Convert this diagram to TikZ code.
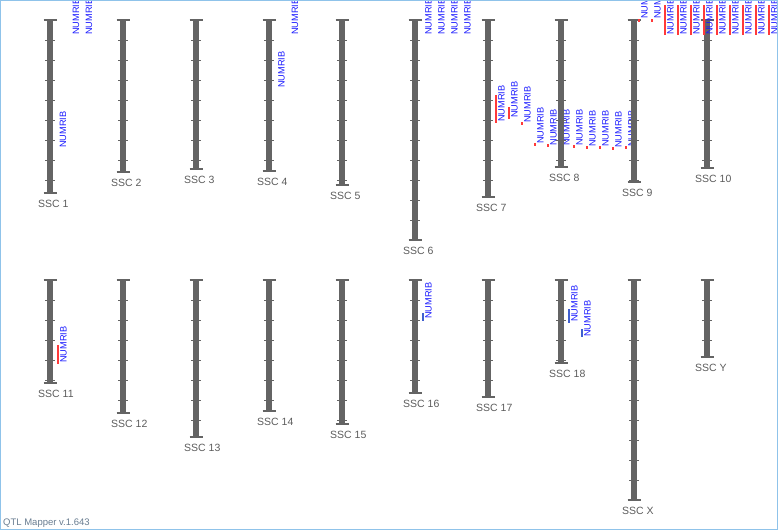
\documentclass[tikz,border=0pt]{standalone}
\usepackage{fontspec}
\setmainfont{Liberation Sans}
\definecolor{chromgray}{HTML}{646464}
\definecolor{labgray}{HTML}{5C5C5C}
\definecolor{qtltext}{HTML}{1A1AFF}
\definecolor{qtlred}{HTML}{FF3A3A}
\definecolor{qtlblue}{HTML}{3F5FD0}
\definecolor{framecol}{HTML}{8FC3EA}
\definecolor{footcol}{HTML}{687C90}
\tikzset{
  chrombar/.style={fill=chromgray},
  capline/.style={draw=chromgray, line width=1.4pt},
  tickline/.style={draw=chromgray, line width=0.9pt},
  chromlabel/.style={anchor=west, inner sep=0pt, text=labgray, font=\fontsize{10.5}{12}\selectfont},
  qtllabel/.style={anchor=west, rotate=90, inner sep=0pt, text=qtltext, font=\fontsize{9.2}{10}\selectfont},
  redbar/.style={draw=qtlred, line width=2pt},
  bluebar/.style={draw=qtlblue, line width=2pt},
  reddot/.style={fill=qtlred},
}
% #1 name, #2 x, #3 top, #4 bottom, #5 label
\newcommand\chromo[5]{%
  \fill[chrombar] ({#2-3},#3) rectangle ({#2+3},#4);
  \draw[capline] ({#2-6.5},#3) -- ({#2+6.5},#3);
  \draw[capline] ({#2-6.5},#4) -- ({#2+6.5},#4);
  \pgfmathtruncatemacro\ntick{(#4-#3-1)/20}%
  \foreach \k in {1,...,\ntick} \draw[tickline] ({#2-5},{#3+20*\k}) -- ({#2+5},{#3+20*\k});
  \node[chromlabel] (#1) at ({#2-12},{#4+10.5}) {#5};
}
% #1 name, #2 bar x, #3 bottom y
\newcommand\qtllab[3]{\node[qtllabel] (#1) at ({#2+5.5},#3) {NUMRIB};}
\newcommand\qtldot[2]{\fill[reddot] ({#1-1},{#2-1.5}) rectangle ({#1+1},{#2+1.5});}
\begin{document}
\begin{tikzpicture}[x=1pt,y=-1pt]
\useasboundingbox (0,0) rectangle (778,530);
\begin{scope}
\clip (0,0) rectangle (778,530);
% top row
\chromo{c1}{50}{20}{193}{SSC 1}
\qtllab{q1a}{57.5}{148}
\qtllab{q1b}{70.5}{35}
\qtllab{q1c}{83.5}{35}
\chromo{c2}{123}{20}{172}{SSC 2}
\chromo{c3}{196}{20}{169}{SSC 3}
\chromo{c4}{269}{20}{171}{SSC 4}
\qtllab{q4a}{276}{88}
\qtllab{q4b}{289.5}{35}
\chromo{c5}{342}{20}{185}{SSC 5}
\chromo{c6}{415}{20}{240}{SSC 6}
\qtllab{q6a}{423}{35}
\qtllab{q6b}{436}{35}
\qtllab{q6c}{449}{35}
\qtllab{q6d}{462}{35}
\chromo{c7}{488}{20}{197}{SSC 7}
\draw[redbar] (496,95) -- (496,123);
\qtllab{q7a}{496}{122}
\draw[redbar] (509,107) -- (509,119);
\qtllab{q7b}{509}{118}
\qtldot{522}{123}
\qtllab{q7c}{522}{123}
\qtldot{535}{144}
\qtllab{q7d}{535}{144}
\qtldot{548}{145.5}
\qtllab{q7e}{548}{145.5}
\qtldot{561}{146}
\qtllab{q7f}{561}{146}
\chromo{c8}{561}{20}{167}{SSC 8}
\qtldot{574}{146}
\qtllab{q7g}{574}{146}
\qtldot{587}{147}
\qtllab{q7h}{587}{147}
\qtldot{600}{147}
\qtllab{q7i}{600}{147}
\qtldot{613}{148}
\qtllab{q7j}{613}{148}
\qtldot{626}{147}
\qtllab{q7k}{626}{147}
\chromo{c9}{634}{20}{182}{SSC 9}
\chromo{c10}{707}{20}{168}{SSC 10}
\qtldot{639}{20}
\qtllab{q9a}{639}{19}
\qtldot{652}{20}
\qtllab{q9b}{652}{19}
\foreach \i/\xx in {c/665,d/678,e/691,f/704,g/717,h/730,i/743,j/756,k/769}{
  \draw[redbar] (\xx,5) -- (\xx,35);
  \qtllab{q9\i}{\xx}{35}
}
% bottom row
\chromo{c11}{50}{280}{383}{SSC 11}
\draw[redbar] (58,345) -- (58,364);
\qtllab{q11a}{58}{363}
\chromo{c12}{123}{280}{413}{SSC 12}
\chromo{c13}{196}{280}{437}{SSC 13}
\chromo{c14}{269}{280}{411}{SSC 14}
\chromo{c15}{342}{280}{424}{SSC 15}
\chromo{c16}{415}{280}{393}{SSC 16}
\draw[bluebar] (423,313) -- (423,321);
\qtllab{q16a}{423}{319}
\chromo{c17}{488}{280}{397}{SSC 17}
\chromo{c18}{561}{280}{363}{SSC 18}
\draw[bluebar] (569,309) -- (569,323);
\qtllab{q18a}{569}{322}
\draw[bluebar] (582,329) -- (582,337);
\qtllab{q18b}{582}{337}
\chromo{cX}{634}{280}{500}{SSC X}
\chromo{cY}{707}{280}{357}{SSC Y}
\node[anchor=west, inner sep=0pt, text=footcol, font=\fontsize{9.5}{11}\selectfont] (foot) at (3,523.5) {QTL Mapper v.1.643};
\end{scope}
\draw[framecol, line width=1pt] (0.5,0.5) rectangle (777.5,529.5);
\end{tikzpicture}
\end{document}
